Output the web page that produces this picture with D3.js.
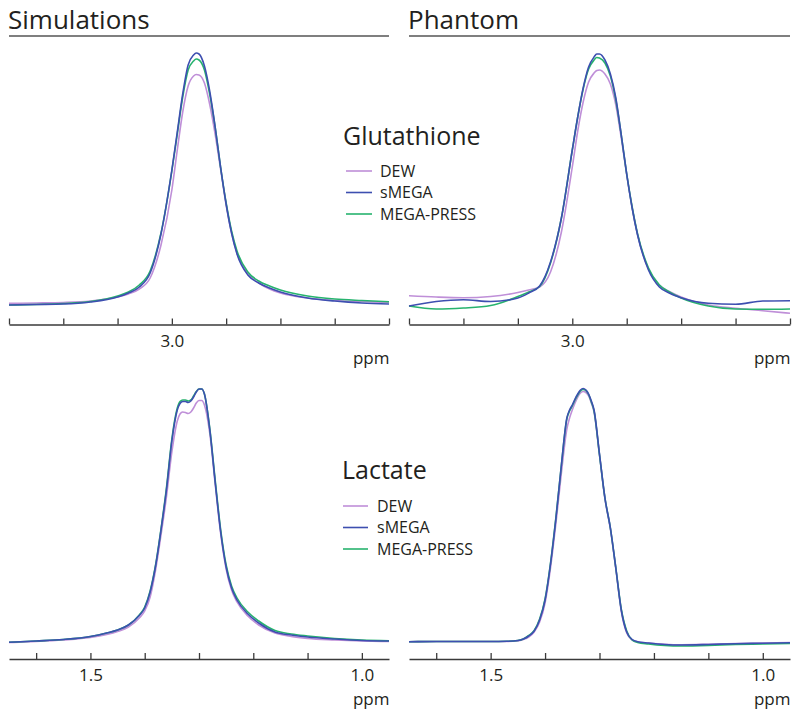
<!DOCTYPE html>
<html>
<head>
<meta charset="utf-8">
<script src="https://cdn.jsdelivr.net/npm/d3@7"></script>
<style>
  html, body { margin: 0; padding: 0; background: #fff; }
  svg { display: block; font-family: "Open Sans", "Noto Sans", sans-serif; }
</style>
</head>
<body>
<svg id="chart" width="800" height="717"></svg>
<script>
// ---------------- data ----------------
const seriesNames = ["DEW", "sMEGA", "MEGA-PRESS"];
const seriesColors = ["#bf8fd8", "#3d4fb0", "#27b36e"];

const panelTitles = ["Simulations", "Phantom"];
const metaboliteNames = ["Glutathione", "Lactate"];

// Glutathione chemical-shift grid (ppm)
const gluPpm = [3.30, 3.25, 3.20, 3.15, 3.10, 3.08, 3.06, 3.04, 3.02, 3.00, 2.99, 2.98, 2.97, 2.96, 2.955,
  2.95, 2.94, 2.93, 2.92, 2.91, 2.90, 2.89, 2.88, 2.86, 2.84, 2.82, 2.80, 2.75, 2.70, 2.65, 2.60];
// intensities (a.u.)
const gluSimDEW   = [2.7, 3, 3.5, 5, 9, 12, 17, 28, 61, 116, 156, 194, 220, 230, 231.5, 231, 223, 201, 171, 136, 101, 73, 53, 32, 23, 17, 13, 8, 5.5, 4.5, 3.7];
const gluSimSMEGA = [1, 1.5, 2, 4, 9, 13, 19, 33, 72, 136, 174, 212, 241, 251, 253, 252, 240, 214, 178, 138, 102, 73, 52, 31, 23, 18, 14, 8, 5, 3, 2];
const gluSimMEGA  = [1, 1.5, 2.5, 4.5, 10, 14, 21, 35, 73, 135, 172, 209, 236, 245, 247, 246, 236, 211, 178, 138, 103, 75, 55, 34, 25, 20, 16, 10, 7, 5.5, 4.3];
const gluPhDEW    = [10.3, 9, 8.3, 9.5, 13.5, 16, 19, 34, 74, 139, 175, 204, 224, 233, 235.5, 236, 232, 222, 201, 168, 131, 98, 71, 37, 21, 14, 9, 1, -2.3, -4.7, -7.3];
const gluPhSMEGA  = [0, 4.5, 6.3, 4.5, 8, 13, 20, 44, 88, 156, 189, 218, 239, 249, 252, 252, 246, 232, 208, 171, 132, 98, 71, 36, 19, 12.5, 8.3, 2.7, 1.7, 5, 5.3];
const gluPhMEGA   = [0, -3, -2, 0.5, 9.5, 14, 19.5, 43, 88, 156, 189, 217, 237, 246, 248.5, 248, 243, 230, 206, 171, 132, 99, 72, 38, 21, 13.5, 8, 0, -3, -3.3, -3];

// Lactate, simulations
const lacSimPpm = [1.65, 1.60, 1.55, 1.50, 1.47, 1.45, 1.43, 1.41, 1.40, 1.39, 1.38, 1.37, 1.36, 1.35, 1.34, 1.335, 1.33, 1.325,
  1.32, 1.315, 1.31, 1.305, 1.30, 1.295, 1.29, 1.28, 1.27, 1.26, 1.25, 1.24, 1.23, 1.21, 1.19, 1.16, 1.13, 1.10, 1.05, 1.00, 0.95];
const lacSimDEW   = [0.5, 1.5, 3, 5.5, 8.5, 11.5, 16, 25, 32, 46, 73, 108, 146, 191, 222, 229, 231, 230.5, 229.5, 231, 235, 240, 242.5, 242.5, 238, 209, 158, 109, 74, 53, 41, 27, 18, 10, 6.5, 4.5, 3, 2, 1.5];
const lacSimSMEGA = [0.7, 2, 3.5, 6.5, 10, 13, 18, 27.5, 35, 51, 77, 113, 153, 202, 233, 239.5, 241.5, 241.5, 240.5, 242, 246, 251, 254, 254, 249, 213, 160, 111, 76, 55, 43, 29, 20, 11, 8, 6, 4, 2.5, 2];
const lacSimMEGA  = [0.7, 2, 3.5, 6.5, 10, 13, 18, 28, 36, 52, 78, 114, 155, 204, 235, 241.5, 243, 243, 242, 243, 247, 251.5, 254, 254, 249, 214, 162, 113, 78, 57, 45, 31, 22, 12.5, 9, 7, 4.5, 3, 2.3];

// Lactate, phantom
const lacPhPpm = [1.65, 1.60, 1.55, 1.50, 1.47, 1.45, 1.44, 1.43, 1.42, 1.41, 1.40, 1.39, 1.38, 1.37, 1.36, 1.355, 1.35, 1.345, 1.34, 1.335,
  1.33, 1.325, 1.32, 1.315, 1.31, 1.30, 1.29, 1.28, 1.27, 1.26, 1.25, 1.24, 1.23, 1.21, 1.18, 1.15, 1.10, 1.05, 1.00, 0.95];
const lacPhDEW   = [1.3, 1.5, 1.5, 1.5, 1.5, 2, 3.5, 6, 11, 21, 40, 75, 120, 170, 214, 225, 233, 240, 246, 250, 251.5, 250.5, 247, 240, 231, 188, 144, 114, 74, 32, 10, 3, 1, 0, -1.2, -1.7, -1.2, -0.5, 0, 0.5];
const lacPhSMEGA = [1.3, 1.5, 1.5, 1.5, 1.7, 2.5, 4, 7, 12, 23, 43, 79, 125, 178, 225, 233, 238, 244, 249, 253, 254.5, 253, 249, 242, 233, 189, 145, 115, 75, 33, 11, 3.5, 1.3, 0, -1.5, -2, -1.5, -0.7, -0.2, 0.3];
const lacPhMEGA  = [1.3, 1.5, 1.5, 1.5, 1.7, 2.5, 4, 7.5, 12.5, 24, 44, 80, 126, 178, 224, 232, 237, 243, 248, 252, 253.5, 252.5, 248.5, 241, 232, 188, 145, 115, 75, 34, 12, 3, 0.5, -1, -2.5, -3, -2.5, -1.5, -1, -0.5];

// axis ticks and labels
const gluTicks = [3.3, 3.2, 3.1, 3.0, 2.9, 2.8, 2.7, 2.6];
const gluTickLabels = ["3.0"];
const lacTicks = [1.6, 1.5, 1.4, 1.3, 1.2, 1.1, 1.0];
const lacTickLabels = ["1.5", "1.0"];
const gluDomain = [3.3, 2.6];
const lacDomain = [1.65, 0.95];
const intensityDomain = [0, 254];
const axisUnit = "ppm";

// ---------------- drawing ----------------
const svg = d3.select("#chart");
const textColor = "#231f20";
const axisColor = "#3a3a3a";

const cols = [{x0: 9, x1: 389}, {x0: 409, x1: 790}];
const rows = [
  {top: 52, base: 306, axisY: 324.5, unitY: 364, domain: gluDomain, ticks: gluTicks, labels: gluTickLabels},
  {top: 389, base: 643, axisY: 659, unitY: 705, domain: lacDomain, ticks: lacTicks, labels: lacTickLabels}
];

const panels = [
  {row: 0, col: 0, ppm: gluPpm, series: [gluSimDEW, gluSimSMEGA, gluSimMEGA]},
  {row: 0, col: 1, ppm: gluPpm, series: [gluPhDEW, gluPhSMEGA, gluPhMEGA]},
  {row: 1, col: 0, ppm: lacSimPpm, series: [lacSimDEW, lacSimSMEGA, lacSimMEGA]},
  {row: 1, col: 1, ppm: lacPhPpm, series: [lacPhDEW, lacPhSMEGA, lacPhMEGA]}
];

// column headers
panelTitles.forEach((t, i) => {
  svg.append("text").attr("x", cols[i].x0 - 1).attr("y", 29)
    .attr("font-size", 26).attr("fill", textColor).text(t);
  svg.append("line").attr("x1", cols[i].x0).attr("x2", cols[i].x1)
    .attr("y1", 36).attr("y2", 36).attr("stroke", "#555").attr("stroke-width", 1.3);
});

panels.forEach(p => {
  const r = rows[p.row], c = cols[p.col];
  const x = d3.scaleLinear().domain(r.domain).range([c.x0, c.x1]);
  const y = d3.scaleLinear().domain(intensityDomain).range([r.base, r.top]);

  const axis = d3.axisBottom(x)
    .tickValues(r.ticks)
    .tickSizeInner(-6)
    .tickSizeOuter(0)
    .tickPadding(10)
    .tickFormat(v => { const s = d3.format(".1f")(v); return r.labels.includes(s) ? s : ""; });
  const g = svg.append("g").attr("transform", `translate(0,${r.axisY})`).call(axis);
  g.select(".domain").attr("stroke", axisColor).attr("stroke-width", 1.3);
  g.selectAll(".tick line").attr("stroke", axisColor).attr("stroke-width", 1.3);
  g.selectAll(".tick text").attr("font-size", 17).attr("fill", textColor)
    .attr("font-family", "\"Open Sans\", sans-serif");

  svg.append("text").attr("x", c.x1 + 0.5).attr("y", r.unitY).attr("text-anchor", "end")
    .attr("font-size", 17).attr("fill", textColor).text(axisUnit);

  const line = d3.line()
    .x((d, i) => x(p.ppm[i]))
    .y(d => y(d))
    .curve(d3.curveMonotoneX);

  // draw order: DEW, MEGA-PRESS, sMEGA (sMEGA on top)
  [0, 2, 1].forEach(si => {
    svg.append("path").datum(p.series[si])
      .attr("d", line)
      .attr("fill", "none")
      .attr("stroke", seriesColors[si])
      .attr("stroke-width", 1.6)
      .attr("stroke-linejoin", "round");
  });
});

// legends
const legends = [
  {name: metaboliteNames[0], tx: 343, ty: 145, lx0: 346, lx1: 372, ly: 171, textX: 380},
  {name: metaboliteNames[1], tx: 342, ty: 479, lx0: 343, lx1: 368, ly: 506, textX: 377}
];
legends.forEach(L => {
  svg.append("text").attr("x", L.tx).attr("y", L.ty).attr("font-size", 25)
    .attr("fill", textColor).text(L.name);
  seriesNames.forEach((s, i) => {
    const yy = L.ly + i * 21.5;
    svg.append("line").attr("x1", L.lx0).attr("x2", L.lx1).attr("y1", yy).attr("y2", yy)
      .attr("stroke", seriesColors[i]).attr("stroke-width", 1.6);
    svg.append("text").attr("x", L.textX).attr("y", yy + 5.8).attr("font-size", 16)
      .attr("fill", textColor).text(s);
  });
});
</script>
</body>
</html>
